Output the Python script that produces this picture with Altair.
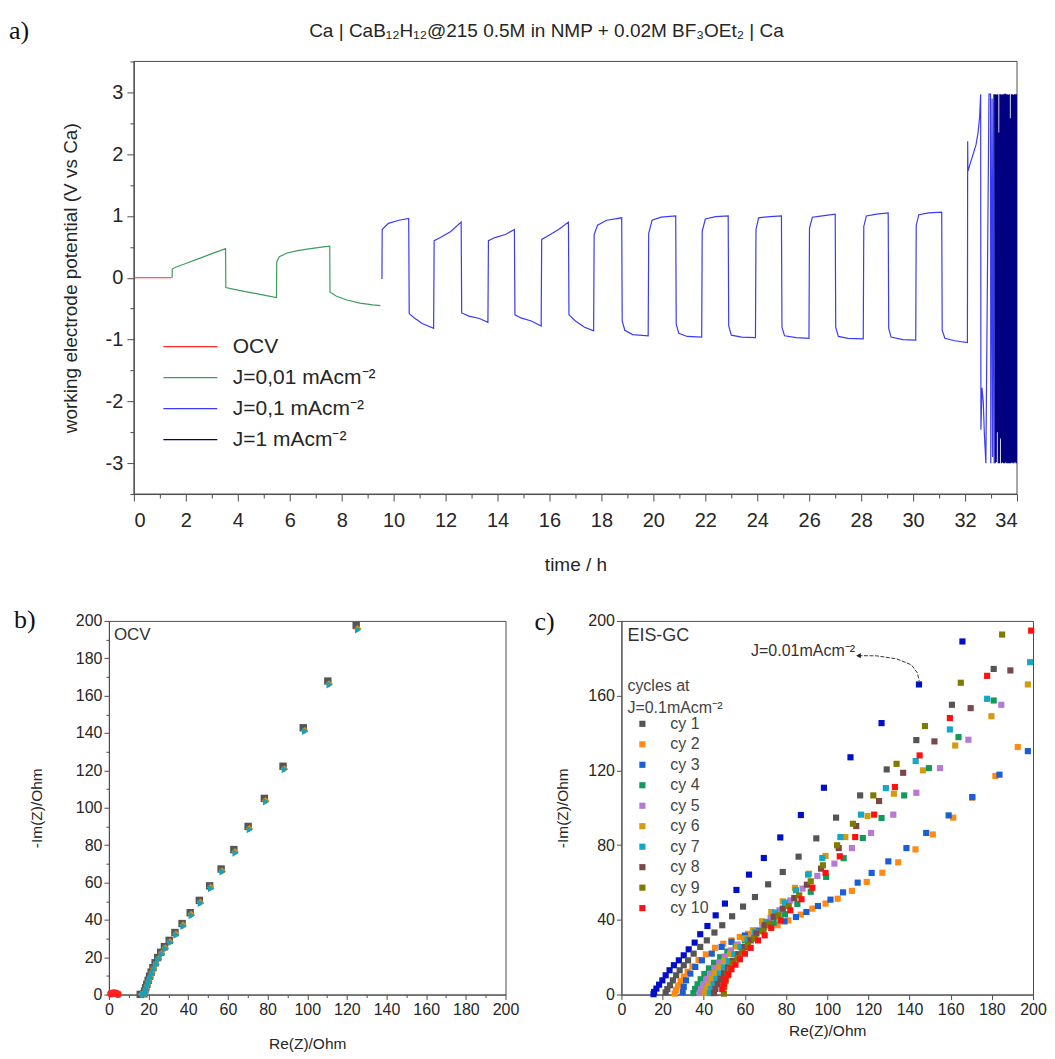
import altair as alt
import pandas as pd

FONT = "Liberation Sans"
SERIF = "Liberation Serif"
INK = "#262626"
AXC = "#4d4d4d"

# ======================= panel a : potential vs time =======================
a_series = ["OCV", "J=0,01 mAcm⁻²", "J=0,1 mAcm⁻²", "J=1 mAcm⁻²"]
a_colors = ["#ff2a2a", "#3c9d5d", "#3a3aff", "#000080"]
a_title = "Ca | CaB₁₂H₁₂@215 0.5M in NMP + 0.02M BF₃OEt₂ | Ca"

ocv_t = [0.0, 0.5, 1.0, 1.45]
ocv_v = [0.0, 0.0, 0.0, 0.0]

j001_t = [1.47, 1.48, 1.6, 2.0, 2.5, 3.0, 3.53, 3.54, 4.0, 4.5, 5.0, 5.49,
          5.5, 5.6, 5.9, 6.3, 6.8, 7.3, 7.54, 7.55, 7.8, 8.2, 8.7, 9.2, 9.49]
j001_v = [0.0, 0.14, 0.17, 0.23, 0.31, 0.39, 0.47, -0.16, -0.2, -0.24, -0.28, -0.32,
          0.26, 0.34, 0.4, 0.44, 0.47, 0.5, 0.51, -0.23, -0.3, -0.36, -0.41, -0.44, -0.45]

j01_t = [9.55, 9.56, 9.8, 10.2, 10.58,
         10.6, 10.8, 11.1, 11.54,
         11.56, 11.8, 12.2, 12.6,
         12.62, 12.9, 13.3, 13.63,
         13.65, 13.9, 14.3, 14.65,
         14.67, 14.9, 15.3, 15.68,
         15.7, 15.95, 16.35, 16.73,
         16.75, 17.0, 17.35, 17.7,
         17.72, 17.85, 18.2, 18.78,
         18.8, 18.9, 19.2, 19.8,
         19.82, 19.95, 20.3, 20.86,
         20.88, 20.98, 21.3, 21.86,
         21.88, 22.0, 22.4, 22.88,
         22.9, 23.0, 23.4, 23.93,
         23.95, 24.05, 24.5, 24.93,
         24.95, 25.05, 25.5, 25.99,
         26.01, 26.12, 26.5, 27.0,
         27.02, 27.12, 27.5, 28.08,
         28.1, 28.2, 28.6, 29.04,
         29.06, 29.15, 29.6, 30.1,
         30.12, 30.22, 30.6, 31.1,
         31.12, 31.22, 31.6, 32.09,
         32.1, 32.11, 32.2, 32.31, 32.42, 32.5, 32.56, 32.6,
         32.61, 32.65, 32.7, 32.74, 32.8, 32.92, 32.98, 32.99,
         33.04, 33.06, 33.1, 33.12]
j01_v = [-0.02, 0.78, 0.88, 0.93, 0.96,
         -0.58, -0.65, -0.74, -0.82,
         0.6, 0.65, 0.75, 0.9,
         -0.57, -0.62, -0.66, -0.72,
         0.6, 0.65, 0.7, 0.78,
         -0.6, -0.65, -0.7, -0.78,
         0.62, 0.68, 0.78, 0.9,
         -0.6, -0.7, -0.8, -0.86,
         0.7, 0.85, 0.93, 0.97,
         -0.7, -0.85, -0.92, -0.94,
         0.72, 0.93, 0.98, 1.0,
         -0.75, -0.9, -0.95, -0.96,
         0.75, 0.95, 0.99, 1.0,
         -0.78, -0.93, -0.96, -0.97,
         0.78, 0.97, 0.99, 1.0,
         -0.8, -0.94, -0.97, -0.98,
         0.8, 0.98, 1.0, 1.03,
         -0.8, -0.95, -0.98, -0.99,
         0.83, 1.0, 1.03, 1.05,
         -0.82, -0.96, -1.0, -1.01,
         0.85, 1.02, 1.05, 1.06,
         -0.85, -0.98, -1.02, -1.05,
         2.21, 1.72, 1.85, 2.0, 2.15, 2.35, 2.6, 2.97,
         -2.46, -1.78, -2.0, -2.5, -3.0, 2.97, 2.97, -3.0,
         2.9, -2.9, 2.97, -3.0]

j1_t = [33.14, 33.16, 33.18, 33.20, 33.22, 33.24, 33.26, 33.28, 33.30, 33.32, 33.34,
        33.36, 33.38, 33.40, 33.42, 33.44, 33.46, 33.48, 33.50, 33.52, 33.54, 33.56,
        33.58, 33.60, 33.62, 33.64, 33.66, 33.68, 33.70, 33.72, 33.74, 33.76, 33.78,
        33.80, 33.82, 33.84, 33.86, 33.88, 33.90, 33.92, 33.94, 33.96, 33.98, 34.0]
j1_v = [2.97, -3.0, 2.97, -2.98, 2.96, -2.5, 2.97, -3.0, 2.35, -3.0, 2.97,
        -2.6, 2.97, -3.0, 2.96, -2.99, 2.97, -3.0, 2.97, -3.0, 2.98, -2.99,
        2.97, -3.0, 2.97, -3.0, 2.96, -3.0, 2.97, -3.0, 2.58, -3.0, 2.97,
        -2.99, 2.97, -3.0, 2.96, -3.0, 2.97, -2.98, 2.97, -3.0, 2.97, -3.0]

a_x_ticks = list(range(0, 35))
a_y_ticks = [-3.5, -3, -2.5, -2, -1.5, -1, -0.5, 0, 0.5, 1, 1.5, 2, 2.5, 3, 3.5]
A_XMIN, A_XMAX = 0, 34
A_YMIN, A_YMAX = -3.5, 3.5

rows = []
for name, ts, vs in [(a_series[0], ocv_t, ocv_v), (a_series[1], j001_t, j001_v),
                     (a_series[2], j01_t, j01_v), (a_series[3], j1_t, j1_v)]:
    for i, (t, v) in enumerate(zip(ts, vs)):
        rows.append({"series": name, "t": t, "v": v, "i": i})
df_a = pd.DataFrame(rows)

a_xscale = alt.Scale(domain=[A_XMIN, A_XMAX], range=[25, 909], nice=False, zero=False)
a_yscale = alt.Scale(domain=[A_YMIN, A_YMAX], nice=False, zero=False)
a_xaxis = alt.Axis(values=a_x_ticks, format="d", labelOverlap=False,
                   labelExpr="datum.value % 2 === 0 ? datum.label : ''",
                   tickSize={"condition": {"test": "datum.value % 2 === 0", "value": 7}, "value": 4},
                   labelFontSize=20, titleFontSize=19, titlePadding=26, labelPadding=9)
a_yaxis = alt.Axis(values=a_y_ticks, labelOverlap=False, offset=-25,
                   labelExpr="abs(datum.value % 1) < 0.01 ? replace(format(datum.value, 'd'), '−', '-') : ''",
                   tickSize={"condition": {"test": "abs(datum.value % 1) < 0.01", "value": 7}, "value": 4},
                   labelFontSize=20, titleFontSize=19, titlePadding=25, labelPadding=4)
A_XTITLE = "time / h"
A_YTITLE = "working electrode potential (V vs Ca)"

# plot frame drawn around the data domain (drawn first, under the curves)
frame_df = pd.DataFrame({"t": [A_XMIN], "t2": [A_XMAX], "v": [A_YMIN], "v2": [A_YMAX]})
a_frame = alt.Chart(frame_df).mark_rect(fillOpacity=0, stroke=AXC, strokeWidth=1).encode(
    x=alt.X("t:Q", title=A_XTITLE, scale=a_xscale, axis=a_xaxis), x2="t2:Q",
    y=alt.Y("v:Q", title=A_YTITLE, scale=a_yscale, axis=a_yaxis), y2="v2:Q")

a_lines = alt.Chart(df_a).mark_line(strokeWidth=1.2, clip=True).encode(
    x=alt.X("t:Q", title=A_XTITLE, scale=a_xscale, axis=a_xaxis),
    y=alt.Y("v:Q", title=A_YTITLE, scale=a_yscale, axis=a_yaxis),
    color=alt.Color("series:N", scale=alt.Scale(domain=a_series, range=a_colors),
                    legend=alt.Legend(title=None, orient="none", legendX=71, legendY=275,
                                      symbolType="M-3,0H3", symbolSize=324, symbolStrokeWidth=1.3,
                                      labelFontSize=21, labelFont=FONT, labelColor=INK,
                                      labelOffset=32, rowPadding=9, padding=0)),
    order="i:Q",
)

a_tag = alt.Chart(pd.DataFrame({"lab": ["a)"]})).mark_text(
    font=SERIF, fontSize=26, align="left", baseline="middle", color="#111"
).encode(text="lab:N", x=alt.value(-100), y=alt.value(-30))
a_head = alt.Chart(pd.DataFrame({"lab": [a_title]})).mark_text(
    font=FONT, fontSize=19, align="center", baseline="middle", color=INK
).encode(text="lab:N", x=alt.value(438), y=alt.value(-30))

panel_a = alt.layer(a_frame, a_lines, a_tag, a_head).properties(
    width=909, height=433, view=alt.ViewBackground(strokeOpacity=0))

# ======================= panel b : OCV Nyquist =======================
b_series = ["s1", "s2", "s3", "s4"]
b_colors = ["#555555", "#e08a10", "#1aa0b8", "#ff2020"]
b_shapes = ["square", "diamond", "triangle-right", "circle"]

b_re_1 = [15.8, 17.6, 18.0, 18.5, 19.1, 19.8, 20.5, 21.3, 22.2, 23.3, 24.6, 26.1, 28.0,
          30.4, 33.3, 36.9, 41.0, 45.6, 50.8, 56.6, 63.0, 70.2, 78.4, 87.8, 98.0, 110.4, 124.7]
b_im_1 = [0.1, 0.4, 1.8, 3.6, 5.5, 7.6, 9.8, 12.0, 14.4, 17.0, 19.8, 22.6, 25.6,
          29.0, 33.2, 38.0, 43.8, 50.4, 58.2, 67.2, 77.6, 90.0, 105.0, 122.2, 142.8, 167.8, 197.6]
b_re_2 = [16.5, 17.9, 18.3, 18.8, 19.4, 20.1, 20.9, 21.7, 22.6, 23.7, 25.0, 26.5, 28.4,
          30.8, 33.8, 37.4, 41.5, 46.1, 51.3, 57.1, 63.6, 70.8, 79.0, 88.4, 98.7, 111.0, 125.4]
b_im_2 = [0.1, 0.2, 1.4, 3.1, 5.0, 7.1, 9.3, 11.5, 13.9, 16.4, 19.2, 22.0, 24.9,
          28.3, 32.4, 37.2, 43.0, 49.4, 57.4, 66.2, 76.4, 88.8, 103.8, 120.8, 141.4, 166.2, 195.8]
b_re_3 = [17.2, 18.2, 18.6, 19.1, 19.7, 20.4, 21.2, 22.0, 22.9, 24.0, 25.3, 26.8, 28.7,
          31.1, 34.1, 37.7, 41.8, 46.4, 51.6, 57.4, 63.9, 71.1, 79.3, 88.7, 99.0, 111.3, 125.7]
b_im_3 = [0.1, 0.1, 1.2, 2.9, 4.8, 6.8, 9.0, 11.2, 13.6, 16.1, 18.9, 21.6, 24.5,
          27.8, 31.9, 36.6, 42.3, 48.9, 56.8, 65.7, 75.8, 88.3, 103.2, 120.4, 140.9, 165.8, 195.3]
b_re_4 = [1.0, 2.2, 3.4, 4.6]
b_im_4 = [0.4, 0.9, 0.7, 0.2]

rows = []
for name, rs, ims in [("s1", b_re_1, b_im_1), ("s2", b_re_2, b_im_2),
                      ("s3", b_re_3, b_im_3), ("s4", b_re_4, b_im_4)]:
    for r, m in zip(rs, ims):
        rows.append({"series": name, "re": r, "im": m})
df_b = pd.DataFrame(rows)

nyq_ticks = list(range(0, 201, 10))


def nyq_x(title, pad):
    return alt.X("re:Q", title=title, scale=alt.Scale(domain=[0, 200], nice=False),
                 axis=alt.Axis(values=nyq_ticks, format="d", labelOverlap=False,
                               labelExpr="datum.value % 20 === 0 ? datum.label : ''",
                               tickSize={"condition": {"test": "datum.value % 20 === 0", "value": 5}, "value": 3},
                               labelFontSize=16, titleFontSize=15.5, titlePadding=pad, labelPadding=2,
                               labelFlush=False))


def nyq_y(pad):
    return alt.Y("im:Q", title="-Im(Z)/Ohm", scale=alt.Scale(domain=[0, 200], nice=False),
                 axis=alt.Axis(values=nyq_ticks, format="d", labelOverlap=False,
                               labelExpr="datum.value % 20 === 0 ? datum.label : ''",
                               tickSize={"condition": {"test": "datum.value % 20 === 0", "value": 5}, "value": 3},
                               labelFontSize=16, titleFontSize=15.5, titlePadding=pad, labelPadding=2,
                               labelFlush=False))


b_pts = alt.Chart(df_b).mark_point(filled=True, size=55, opacity=1).encode(
    x=nyq_x("Re(Z)/Ohm", 19),
    y=nyq_y(31),
    color=alt.Color("series:N", scale=alt.Scale(domain=b_series, range=b_colors), legend=None),
    shape=alt.Shape("series:N", scale=alt.Scale(domain=b_series, range=b_shapes), legend=None),
)
b_ocv = alt.Chart(pd.DataFrame({"lab": ["OCV"]})).mark_text(
    font=FONT, fontSize=17, align="left", baseline="middle", color="#333"
).encode(text="lab:N", x=alt.value(5), y=alt.value(14))
b_tag = alt.Chart(pd.DataFrame({"lab": ["b)"]})).mark_text(
    font=SERIF, fontSize=26, align="left", baseline="middle", color="#111"
).encode(text="lab:N", x=alt.value(-95), y=alt.value(-1))

panel_b = alt.layer(b_pts, b_ocv, b_tag).properties(width=397, height=374)

# ======================= panel c : EIS-GC Nyquist =======================
c_series = ["cy 1", "cy 2", "cy 3", "cy 4", "cy 5", "cy 6", "cy 7", "cy 8", "cy 9", "cy 10", "J=0.01"]
c_colors = ["#555555", "#ff8a14", "#1a5fd6", "#129a5c", "#b57ad6", "#d69a10",
            "#14a8c8", "#7a4848", "#7f7a00", "#ff1010", "#0010c8"]

c_re_j001 = [15.6, 15.9, 17.0, 18.3, 19.9, 21.5, 23.4, 25.5, 27.9, 30.3, 32.7, 35.6, 38.3, 41.8,
             45.8, 50.3, 55.9, 62.0, 69.2, 77.2, 87.2, 98.4, 111.3, 126.4, 144.6, 165.7]
c_im_j001 = [0.2, 1.4, 3.2, 5.3, 7.6, 10.3, 13.0, 15.7, 18.3, 21.0, 24.2, 27.8, 32.3, 36.7,
             42.4, 48.7, 56.0, 64.2, 73.1, 84.1, 96.1, 110.7, 127.0, 145.3, 166.0, 189.0]
c_re_1 = [21.5, 22.3, 23.6, 25.0, 26.6, 28.3, 30.3, 32.4, 35.1, 38.3, 41.5, 45.2, 49.0, 53.8,
          59.1, 64.9, 71.3, 78.4, 86.1, 94.7, 104.3, 116.0, 128.9, 143.3, 160.6, 180.9]
c_im_1 = [1.1, 2.9, 5.0, 7.6, 10.3, 13.0, 15.7, 18.3, 21.9, 25.5, 29.0, 33.2, 37.1, 41.9,
          47.1, 52.2, 59.0, 65.6, 73.8, 83.6, 94.7, 106.6, 120.5, 136.2, 155.1, 174.3]
c_re_2 = [25.9, 26.5, 27.5, 28.8, 30.3, 32.2, 34.5, 37.5, 41.0, 45.5, 49.5, 53.5, 57.5, 61.5,
          65.5, 69.5, 75.9, 81.1, 87.2, 92.8, 99.2, 105.1, 112.0, 119.2, 126.8, 134.5, 142.9,
          151.3, 161.2, 170.5, 181.7, 192.6]
c_im_2 = [0.5, 2.5, 4.8, 7.2, 9.6, 12.2, 15.0, 18.5, 21.5, 25.0, 27.2, 29.0, 30.8, 32.5,
          34.2, 36.0, 37.1, 39.7, 42.8, 46.0, 48.7, 51.3, 55.5, 60.3, 65.2, 70.8, 77.7,
          85.7, 94.7, 105.4, 117.0, 132.5]
c_re_3 = [29.8, 30.3, 31.4, 33.5, 35.9, 39.1, 43.9, 48.7, 53.5, 60.0, 66.4, 72.8, 79.2, 84.8,
          89.9, 95.5, 101.6, 107.7, 114.8, 121.6, 129.7, 138.5, 148.1, 159.0, 170.5, 183.7, 197.5]
c_im_3 = [1.4, 4.1, 7.6, 11.2, 14.8, 18.3, 21.9, 25.5, 28.2, 31.6, 34.2, 37.1, 39.2, 41.5,
          44.2, 47.4, 50.8, 54.7, 59.9, 65.1, 71.3, 78.4, 86.5, 95.9, 105.7, 117.7, 130.3]
c_re_4 = [35.0, 35.8, 37.0, 38.5, 40.3, 42.5, 45.0, 48.0, 51.5, 55.5, 60.0, 64.5, 69.0, 74.0,
          79.5, 85.5, 92.0, 99.5, 108.0, 117.3, 126.4, 137.4, 149.4, 163.8, 180.9]
c_im_4 = [0.8, 3.0, 5.5, 8.2, 11.0, 14.0, 17.0, 20.0, 23.0, 26.0, 29.0, 32.0, 35.0, 38.5,
          43.0, 48.5, 55.0, 63.0, 73.0, 83.8, 94.5, 106.6, 121.2, 137.8, 157.4]
c_re_5 = [38.0, 38.8, 40.0, 41.5, 43.2, 45.2, 47.5, 50.2, 53.2, 56.5, 60.2, 64.2, 68.5, 72.5,
          76.8, 82.1, 88.0, 95.2, 103.5, 112.0, 121.3, 132.1, 143.3, 154.8, 168.6, 184.6]
c_im_5 = [0.8, 3.0, 5.6, 8.3, 11.2, 14.2, 17.2, 20.4, 23.6, 26.8, 30.0, 33.5, 37.2, 41.0,
          45.1, 50.4, 56.7, 63.5, 70.1, 78.4, 86.5, 96.3, 108.0, 121.2, 136.4, 155.1]
c_re_6 = [40.5, 41.2, 42.3, 43.8, 45.5, 47.6, 50.0, 52.8, 56.0, 59.9, 63.9, 68.3, 72.8, 78.4,
          84.3, 91.2, 99.2, 108.8, 119.6, 132.4, 146.5, 162.2, 179.8, 197.5]
c_im_6 = [0.8, 3.0, 5.6, 8.4, 11.4, 14.6, 18.0, 21.8, 25.8, 29.9, 34.4, 39.2, 44.2, 49.9,
          57.1, 64.7, 74.2, 84.3, 95.6, 107.5, 120.0, 133.3, 149.0, 166.0]
c_re_7 = [43.0, 43.7, 44.8, 46.2, 47.9, 49.9, 52.2, 54.9, 57.9, 61.3, 65.0, 70.4, 74.7, 79.5,
          84.8, 90.7, 97.6, 106.4, 116.4, 128.5, 143.0, 159.6, 177.7, 198.6]
c_im_7 = [0.8, 3.0, 5.6, 8.4, 11.4, 14.6, 18.0, 21.6, 25.4, 29.4, 33.6, 38.9, 43.9, 49.2,
          55.8, 64.2, 73.1, 84.3, 96.3, 110.5, 125.0, 141.9, 158.3, 177.9]
c_re_8 = [45.0, 45.7, 46.8, 48.2, 49.9, 51.9, 54.2, 56.9, 59.9, 62.8, 65.6, 69.6, 74.0, 78.4,
          84.0, 90.1, 97.0, 105.6, 114.1, 125.2, 136.9, 152.1, 169.7, 189.0]
c_im_8 = [0.8, 3.0, 5.6, 8.4, 11.4, 14.6, 18.0, 21.6, 25.4, 29.0, 32.7, 37.1, 41.6, 46.0,
          51.7, 58.8, 67.4, 78.4, 90.2, 103.6, 118.7, 135.5, 153.3, 173.5]
c_re_9 = [49.8, 50.0, 50.6, 51.6, 52.7, 54.3, 56.4, 58.7, 61.5, 64.7, 68.3, 71.9, 76.4, 81.3,
          86.4, 92.0, 97.9, 104.8, 112.5, 122.4, 133.7, 147.5, 164.9, 185.0]
c_im_9 = [0.5, 4.1, 7.1, 10.3, 13.6, 16.6, 19.6, 22.8, 26.4, 29.9, 33.9, 38.0, 42.4, 47.4,
          53.1, 60.6, 69.2, 79.9, 91.4, 106.6, 123.5, 143.7, 166.9, 192.7]
c_re_10 = [49.0, 49.7, 50.6, 52.0, 53.5, 55.4, 57.6, 60.0, 62.8, 66.4, 69.6, 72.8, 77.3, 82.1,
           87.5, 92.8, 99.2, 106.1, 113.6, 122.8, 132.9, 144.9, 159.6, 177.7, 199.1]
c_im_10 = [2.9, 5.5, 8.2, 10.7, 13.6, 16.0, 18.9, 21.9, 25.0, 29.0, 31.7, 35.7, 39.7, 45.1,
           51.0, 57.2, 65.1, 74.0, 84.3, 96.3, 111.1, 128.0, 148.0, 170.6, 194.8]

c_sets = [("J=0.01", c_re_j001, c_im_j001), ("cy 1", c_re_1, c_im_1), ("cy 2", c_re_2, c_im_2),
          ("cy 3", c_re_3, c_im_3), ("cy 4", c_re_4, c_im_4), ("cy 5", c_re_5, c_im_5),
          ("cy 6", c_re_6, c_im_6), ("cy 7", c_re_7, c_im_7), ("cy 8", c_re_8, c_im_8),
          ("cy 9", c_re_9, c_im_9), ("cy 10", c_re_10, c_im_10)]
rows = []
for k, (name, rs, ims) in enumerate(c_sets):
    for r, m in zip(rs, ims):
        rows.append({"series": name, "re": r, "im": m, "k": k})
df_c = pd.DataFrame(rows)

c_pts = alt.Chart(df_c).mark_square(size=38, opacity=1).encode(
    x=nyq_x("Re(Z)/Ohm", 6),
    y=nyq_y(17),
    color=alt.Color("series:N", scale=alt.Scale(domain=c_series, range=c_colors),
                    legend=alt.Legend(title=["cycles at", "J=0.1mAcm⁻²"], values=c_series[:10],
                                      orient="none", legendX=6, legendY=57,
                                      titleFont=FONT, titleFontSize=16, titleFontWeight="normal",
                                      titleColor="#444", titleLineHeight=22, titlePadding=0,
                                      labelFont=FONT, labelFontSize=16, labelColor="#444",
                                      symbolType="square", symbolSize=38, symbolOffset=7,
                                      labelOffset=20, rowPadding=4.5, padding=0)),
    order="k:Q",
)

arrow_re = [115.2, 124.0, 133.7, 140.9, 143.8, 144.7]
arrow_im = [181.4, 181.3, 179.7, 176.5, 172.2, 167.9]
df_arrow = pd.DataFrame({"re": arrow_re, "im": arrow_im, "i": list(range(len(arrow_re)))})
c_arrow = alt.Chart(df_arrow).mark_line(color="#333", strokeWidth=1, strokeDash=[4, 1.5]).encode(
    x="re:Q", y="im:Q", order="i:Q")
c_head = alt.Chart(df_arrow.iloc[[0]]).mark_point(
    shape="triangle-left", filled=True, size=28, color="#222", opacity=1).encode(x="re:Q", y="im:Q")

ann_re = [63.0]
ann_im = [184.0]
c_ann = alt.Chart(pd.DataFrame({"re": ann_re, "im": ann_im, "lab": ["J=0.01mAcm⁻²"]})).mark_text(
    font=FONT, fontSize=16, align="left", baseline="middle", color="#333"
).encode(x="re:Q", y="im:Q", text="lab:N")

c_eis = alt.Chart(pd.DataFrame({"lab": ["EIS-GC"]})).mark_text(
    font=FONT, fontSize=18, align="left", baseline="middle", color="#333"
).encode(text="lab:N", x=alt.value(6), y=alt.value(15))
c_tag = alt.Chart(pd.DataFrame({"lab": ["c)"]})).mark_text(
    font=SERIF, fontSize=26, align="left", baseline="middle", color="#111"
).encode(text="lab:N", x=alt.value(-87), y=alt.value(1))

panel_c = alt.layer(c_pts, c_arrow, c_head, c_ann, c_eis, c_tag).properties(width=412, height=374)

row2 = alt.hconcat(panel_b, panel_c, spacing=14).resolve_scale(color="independent", shape="independent")

chart = alt.ConcatChart(
    concat=[panel_a, row2], columns=1, spacing=31,
    padding={"left": 1, "top": 10, "right": 0, "bottom": 0},
).resolve_scale(
    color="independent", shape="independent"
).configure_view(
    stroke=AXC, strokeWidth=1
).configure_axis(
    domainColor=AXC, tickColor=AXC, labelColor=INK, titleColor=INK,
    labelFont=FONT, titleFont=FONT, titleFontWeight="normal", grid=False
)

chart.save("out.html", embed_options={"renderer": "svg", "actions": False})
